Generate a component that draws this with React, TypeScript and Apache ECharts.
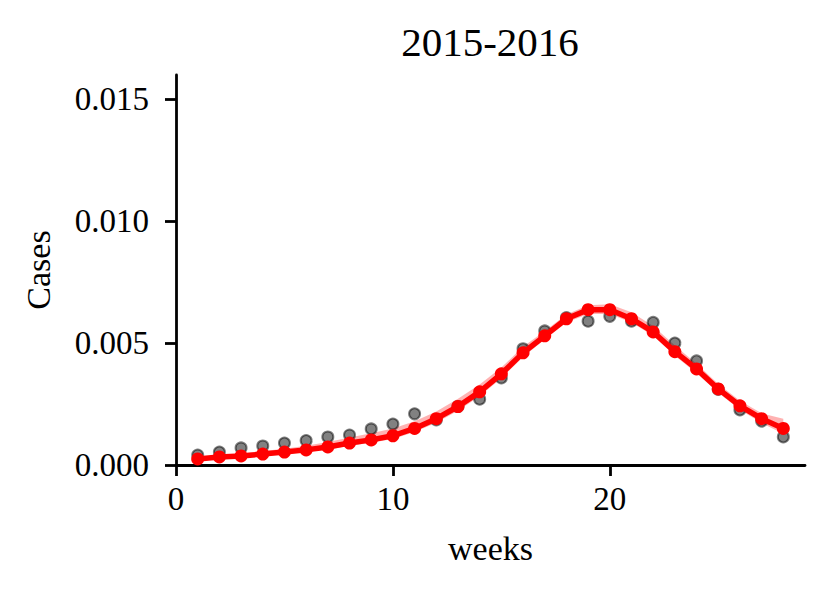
import React, { useEffect, useRef } from "react";
import * as echarts from "echarts";

const weeks = [1, 2, 3, 4, 5, 6, 7, 8, 9, 10, 11, 12, 13, 14, 15, 16, 17, 18, 19, 20, 21, 22, 23, 24, 25, 26, 27, 28];
const observed = [0.00041, 0.00053, 0.0007, 0.00078, 0.0009, 0.001, 0.00115, 0.00123, 0.00148, 0.00168, 0.0021, 0.00185, 0.0024, 0.0027, 0.00357, 0.00477, 0.0055, 0.00605, 0.0059, 0.0061, 0.0059, 0.00585, 0.005, 0.00427, 0.0031, 0.00226, 0.0018, 0.00115];
const model = [0.00025, 0.00033, 0.00037, 0.00045, 0.00053, 0.00062, 0.00074, 0.0009, 0.00103, 0.0012, 0.0015, 0.0019, 0.0024, 0.003, 0.00374, 0.0046, 0.0053, 0.006, 0.00637, 0.00637, 0.006, 0.00546, 0.00465, 0.00394, 0.00312, 0.00243, 0.0019, 0.0015];
const bandLow = [0.00019, 0.00026, 0.0003, 0.00037, 0.00045, 0.00053, 0.00064, 0.00078, 0.00091, 0.00107, 0.00135, 0.00173, 0.00223, 0.00282, 0.00356, 0.00443, 0.00515, 0.00585, 0.0062, 0.0062, 0.00585, 0.0053, 0.00448, 0.00376, 0.00296, 0.00227, 0.00172, 0.00128];
const bandHigh = [0.00031, 0.00041, 0.00047, 0.00057, 0.00067, 0.00079, 0.00094, 0.00113, 0.0013, 0.0015, 0.0018, 0.0022, 0.00272, 0.0033, 0.004, 0.00485, 0.0055, 0.00617, 0.00655, 0.0066, 0.00627, 0.0057, 0.0049, 0.00415, 0.00332, 0.00264, 0.00212, 0.0019];
const xTicks = [0, 10, 20];
const yTicks = [0, 0.005, 0.01, 0.015];
const titleText = "2015-2016";

const FONT = "'Liberation Serif', 'Times New Roman', serif";

export default function App() {
  const ref = useRef<HTMLDivElement>(null);
  useEffect(() => {
    document.body.style.margin = "0";
    const chart = echarts.init(ref.current!, null, { renderer: "svg" });
    const axisCommon = {
      axisLine: { show: true, lineStyle: { color: "#000", width: 2.8 } },
      axisTick: { show: true, inside: false, length: 11, lineStyle: { color: "#000", width: 2.8 } },
      splitLine: { show: false },
      nameTextStyle: { fontFamily: FONT, fontSize: 34, color: "#000" },
    };
    chart.setOption({
      animation: false,
      backgroundColor: "#fff",
      graphic: [
        {
          type: "text",
          x: 490,
          y: 42,
          style: {
            text: titleText,
            fontFamily: FONT,
            fontSize: 41,
            fill: "#000",
            textAlign: "center",
            textVerticalAlign: "middle",
          },
        },
      ],
      grid: { left: 176, right: 24, top: 75, bottom: 127, containLabel: false },
      xAxis: {
        type: "value",
        min: 0,
        max: 29,
        name: "weeks",
        nameLocation: "middle",
        nameGap: 66,
        ...axisCommon,
        axisTick: { ...axisCommon.axisTick, customValues: xTicks },
        axisLabel: {
          customValues: xTicks,
          fontFamily: FONT,
          fontSize: 33,
          color: "#000",
          margin: 17,
        },
      },
      yAxis: {
        type: "value",
        min: 0,
        max: 0.016,
        name: "Cases",
        nameLocation: "middle",
        nameGap: 121,
        ...axisCommon,
        axisTick: { ...axisCommon.axisTick, customValues: yTicks },
        axisLabel: {
          customValues: yTicks,
          fontFamily: FONT,
          fontSize: 33,
          color: "#000",
          margin: 27,
          formatter: (v: number) => v.toFixed(3),
        },
      },
      series: [
        {
          type: "custom",
          data: weeks.map((w, i) => [w, bandLow[i], bandHigh[i]]),
          silent: true,
          z: 1,
          renderItem: (params: any, api: any) => {
            if (params.dataIndex !== 0) return null;
            const upper = weeks.map((w, i) => api.coord([w, bandHigh[i]]));
            const lower = weeks.map((w, i) => api.coord([w, bandLow[i]])).reverse();
            return {
              type: "polygon",
              shape: { points: upper.concat(lower) },
              style: { fill: "rgba(255,0,0,0.3)", stroke: "none" },
            };
          },
        },
        {
          type: "scatter",
          data: weeks.map((w, i) => [w, observed[i]]),
          symbol: "circle",
          symbolSize: 11,
          itemStyle: {
            color: "rgba(0,0,0,0.62)",
            borderColor: "rgba(0,0,0,0.62)",
            borderWidth: 2,
          },
          z: 2,
        },
        {
          type: "line",
          data: weeks.map((w, i) => [w, model[i]]),
          symbol: "circle",
          symbolSize: 13,
          showAllSymbol: true,
          lineStyle: { color: "#ff0000", width: 5.5 },
          itemStyle: { color: "#ff0000", borderWidth: 0 },
          z: 3,
        },
      ],
    });
    return () => chart.dispose();
  }, []);
  return <div ref={ref} style={{ width: 829, height: 592 }} />;
}
